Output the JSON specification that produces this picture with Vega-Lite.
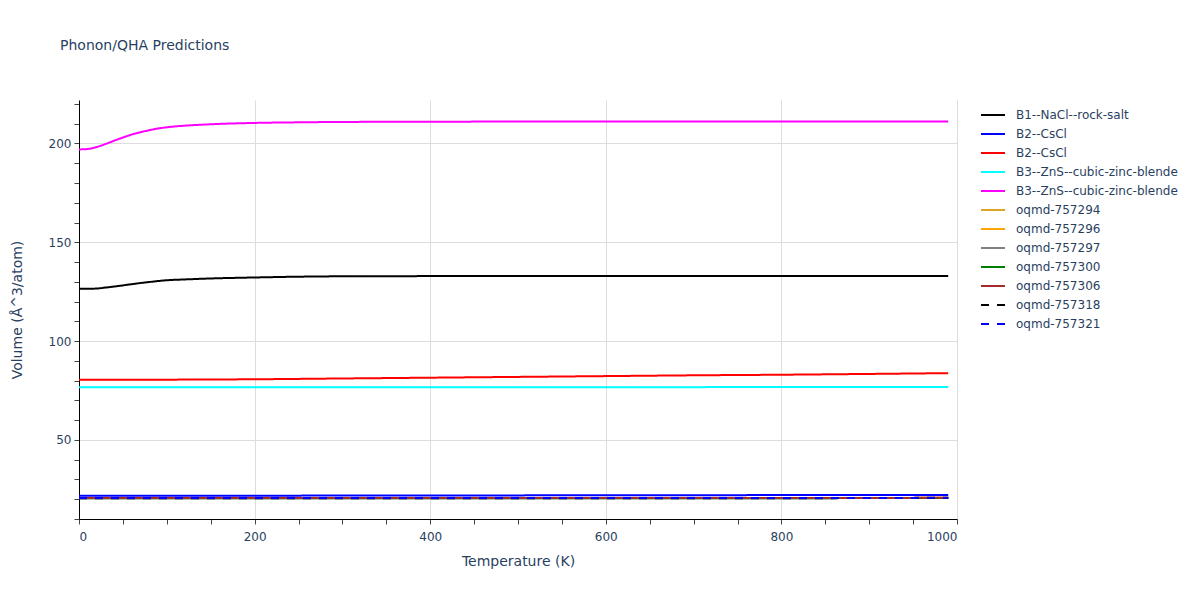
{
  "$schema": "https://vega.github.io/schema/vega-lite/v6.json",
  "width": 878,
  "height": 419,
  "autosize": {"type": "none"},
  "padding": {"left": 79, "top": 100, "right": 243, "bottom": 81},
  "background": "white",
  "config": {
    "font": "DejaVu Sans",
    "view": {"stroke": null},
    "axis": {"labelColor": "#2a3f5f", "titleColor": "#2a3f5f", "labelFont": "DejaVu Sans", "titleFont": "DejaVu Sans", "labelFontSize": 12, "titleFontSize": 14, "titleFontWeight": "normal", "domainColor": "#000000", "tickColor": "#444444", "tickSize": 5, "gridColor": "#dddddd"},
    "legend": {"labelFont": "DejaVu Sans", "labelFontSize": 12, "labelColor": "#2a3f5f", "labelLimit": 400}
  },
  "title": {"text": "Phonon/QHA Predictions", "anchor": "start", "frame": "group", "dx": -19, "offset": 45, "fontSize": 14, "fontWeight": "normal", "color": "#2a3f5f", "font": "DejaVu Sans"},
  "data": {"values": [
    {"s": "01|B1--NaCl--rock-salt", "T": 0, "V": 126.5},
    {"s": "01|B1--NaCl--rock-salt", "T": 10, "V": 126.5},
    {"s": "01|B1--NaCl--rock-salt", "T": 20, "V": 126.6},
    {"s": "01|B1--NaCl--rock-salt", "T": 30, "V": 127.1},
    {"s": "01|B1--NaCl--rock-salt", "T": 40, "V": 127.6},
    {"s": "01|B1--NaCl--rock-salt", "T": 50, "V": 128.2},
    {"s": "01|B1--NaCl--rock-salt", "T": 60, "V": 128.8},
    {"s": "01|B1--NaCl--rock-salt", "T": 70, "V": 129.4},
    {"s": "01|B1--NaCl--rock-salt", "T": 80, "V": 129.9},
    {"s": "01|B1--NaCl--rock-salt", "T": 90, "V": 130.4},
    {"s": "01|B1--NaCl--rock-salt", "T": 100, "V": 130.8},
    {"s": "01|B1--NaCl--rock-salt", "T": 120, "V": 131.2},
    {"s": "01|B1--NaCl--rock-salt", "T": 150, "V": 131.7},
    {"s": "01|B1--NaCl--rock-salt", "T": 200, "V": 132.2},
    {"s": "01|B1--NaCl--rock-salt", "T": 250, "V": 132.6},
    {"s": "01|B1--NaCl--rock-salt", "T": 300, "V": 132.8},
    {"s": "01|B1--NaCl--rock-salt", "T": 400, "V": 132.9},
    {"s": "01|B1--NaCl--rock-salt", "T": 500, "V": 133.0},
    {"s": "01|B1--NaCl--rock-salt", "T": 700, "V": 133.0},
    {"s": "01|B1--NaCl--rock-salt", "T": 990, "V": 133.0},
    {"s": "02|B2--CsCl", "T": 0, "V": 21.7},
    {"s": "02|B2--CsCl", "T": 200, "V": 21.8},
    {"s": "02|B2--CsCl", "T": 400, "V": 21.9},
    {"s": "02|B2--CsCl", "T": 600, "V": 22.0},
    {"s": "02|B2--CsCl", "T": 800, "V": 22.1},
    {"s": "02|B2--CsCl", "T": 990, "V": 22.2},
    {"s": "03|B2--CsCl", "T": 0, "V": 80.4},
    {"s": "03|B2--CsCl", "T": 100, "V": 80.5},
    {"s": "03|B2--CsCl", "T": 200, "V": 80.7},
    {"s": "03|B2--CsCl", "T": 300, "V": 81.1},
    {"s": "03|B2--CsCl", "T": 400, "V": 81.5},
    {"s": "03|B2--CsCl", "T": 500, "V": 81.9},
    {"s": "03|B2--CsCl", "T": 600, "V": 82.3},
    {"s": "03|B2--CsCl", "T": 700, "V": 82.7},
    {"s": "03|B2--CsCl", "T": 800, "V": 83.0},
    {"s": "03|B2--CsCl", "T": 900, "V": 83.4},
    {"s": "03|B2--CsCl", "T": 990, "V": 83.8},
    {"s": "04|B3--ZnS--cubic-zinc-blende", "T": 0, "V": 76.7},
    {"s": "04|B3--ZnS--cubic-zinc-blende", "T": 500, "V": 76.7},
    {"s": "04|B3--ZnS--cubic-zinc-blende", "T": 990, "V": 76.8},
    {"s": "05|B3--ZnS--cubic-zinc-blende", "T": 0, "V": 197.0},
    {"s": "05|B3--ZnS--cubic-zinc-blende", "T": 10, "V": 197.2},
    {"s": "05|B3--ZnS--cubic-zinc-blende", "T": 20, "V": 198.2},
    {"s": "05|B3--ZnS--cubic-zinc-blende", "T": 30, "V": 199.7},
    {"s": "05|B3--ZnS--cubic-zinc-blende", "T": 40, "V": 201.4},
    {"s": "05|B3--ZnS--cubic-zinc-blende", "T": 50, "V": 203.0},
    {"s": "05|B3--ZnS--cubic-zinc-blende", "T": 60, "V": 204.5},
    {"s": "05|B3--ZnS--cubic-zinc-blende", "T": 70, "V": 205.7},
    {"s": "05|B3--ZnS--cubic-zinc-blende", "T": 80, "V": 206.7},
    {"s": "05|B3--ZnS--cubic-zinc-blende", "T": 90, "V": 207.6},
    {"s": "05|B3--ZnS--cubic-zinc-blende", "T": 100, "V": 208.2},
    {"s": "05|B3--ZnS--cubic-zinc-blende", "T": 120, "V": 209.0},
    {"s": "05|B3--ZnS--cubic-zinc-blende", "T": 140, "V": 209.5},
    {"s": "05|B3--ZnS--cubic-zinc-blende", "T": 160, "V": 209.9},
    {"s": "05|B3--ZnS--cubic-zinc-blende", "T": 200, "V": 210.4},
    {"s": "05|B3--ZnS--cubic-zinc-blende", "T": 250, "V": 210.7},
    {"s": "05|B3--ZnS--cubic-zinc-blende", "T": 300, "V": 210.9},
    {"s": "05|B3--ZnS--cubic-zinc-blende", "T": 400, "V": 211.0},
    {"s": "05|B3--ZnS--cubic-zinc-blende", "T": 500, "V": 211.1},
    {"s": "05|B3--ZnS--cubic-zinc-blende", "T": 990, "V": 211.1},
    {"s": "06|oqmd-757294", "T": 0, "V": 20.6},
    {"s": "06|oqmd-757294", "T": 500, "V": 20.6},
    {"s": "06|oqmd-757294", "T": 990, "V": 20.7},
    {"s": "07|oqmd-757296", "T": 0, "V": 20.6},
    {"s": "07|oqmd-757296", "T": 500, "V": 20.6},
    {"s": "07|oqmd-757296", "T": 990, "V": 20.7},
    {"s": "08|oqmd-757297", "T": 0, "V": 20.5},
    {"s": "08|oqmd-757297", "T": 500, "V": 20.5},
    {"s": "08|oqmd-757297", "T": 990, "V": 20.6},
    {"s": "09|oqmd-757300", "T": 0, "V": 20.5},
    {"s": "09|oqmd-757300", "T": 500, "V": 20.5},
    {"s": "09|oqmd-757300", "T": 990, "V": 20.6},
    {"s": "10|oqmd-757306", "T": 0, "V": 20.6},
    {"s": "10|oqmd-757306", "T": 500, "V": 20.6},
    {"s": "10|oqmd-757306", "T": 990, "V": 20.7},
    {"s": "11|oqmd-757318", "T": 0, "V": 20.5},
    {"s": "11|oqmd-757318", "T": 500, "V": 20.5},
    {"s": "11|oqmd-757318", "T": 990, "V": 20.6},
    {"s": "12|oqmd-757321", "T": 0, "V": 20.6},
    {"s": "12|oqmd-757321", "T": 500, "V": 20.6},
    {"s": "12|oqmd-757321", "T": 990, "V": 20.7}
  ]},
  "mark": {"type": "line", "strokeWidth": 2, "interpolate": "monotone"},
  "encoding": {
    "x": {"field": "T", "type": "quantitative", "scale": {"domain": [0, 1000], "nice": false, "zero": false},
      "axis": {"title": "Temperature (K)", "format": "d", "values": [0,50,100,150,200,250,300,350,400,450,500,550,600,650,700,750,800,850,900,950,1000],
        "labelExpr": "datum.value % 200 === 0 ? datum.label : ''", "labelOverlap": false, "labelPadding": 7, "titlePadding": 12,
        "gridOpacity": {"condition": {"test": "datum.value % 200 === 0 && datum.value > 0", "value": 1}, "value": 0}}},
    "y": {"field": "V", "type": "quantitative", "scale": {"domain": [10, 222], "nice": false, "zero": false},
      "axis": {"title": "Volume (Å^3/atom)", "values": [10,20,30,40,50,60,70,80,90,100,110,120,130,140,150,160,170,180,190,200,210,220],
        "labelExpr": "datum.value % 50 === 0 ? datum.label : ''", "labelOverlap": false, "labelPadding": 3, "titlePadding": 24,
        "gridOpacity": {"condition": {"test": "datum.value % 50 === 0", "value": 1}, "value": 0}}},
    "color": {"field": "s", "type": "nominal",
      "scale": {"domain": ["01|B1--NaCl--rock-salt","02|B2--CsCl","03|B2--CsCl","04|B3--ZnS--cubic-zinc-blende","05|B3--ZnS--cubic-zinc-blende","06|oqmd-757294","07|oqmd-757296","08|oqmd-757297","09|oqmd-757300","10|oqmd-757306","11|oqmd-757318","12|oqmd-757321"],
        "range": ["#000000","#0000ff","#ff0000","#00ffff","#ff00ff","#daa520","#ffa500","#808080","#008000","#a52a2a","#000000","#0000ff"]},
      "legend": {"title": null, "orient": "none", "legendX": 901, "legendY": 2, "symbolType": "stroke", "symbolSize": 576, "symbolStrokeWidth": 2, "labelOffset": 10, "rowPadding": 0, "labelExpr": "split(datum.label, '|')[1]"}},
    "strokeDash": {"field": "s", "type": "nominal",
      "scale": {"domain": ["01|B1--NaCl--rock-salt","02|B2--CsCl","03|B2--CsCl","04|B3--ZnS--cubic-zinc-blende","05|B3--ZnS--cubic-zinc-blende","06|oqmd-757294","07|oqmd-757296","08|oqmd-757297","09|oqmd-757300","10|oqmd-757306","11|oqmd-757318","12|oqmd-757321"],
        "range": [[1,0],[1,0],[1,0],[1,0],[1,0],[1,0],[1,0],[1,0],[1,0],[1,0],[8,8],[8,8]]},
      "legend": {"title": null, "orient": "none", "legendX": 901, "legendY": 2, "symbolType": "stroke", "symbolSize": 576, "symbolStrokeWidth": 2, "labelOffset": 10, "rowPadding": 0, "labelExpr": "split(datum.label, '|')[1]"}}
  }
}
